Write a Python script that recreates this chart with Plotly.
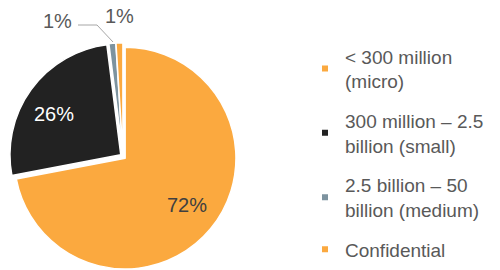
import plotly.graph_objects as go

categories = ["< 300 million<br>(micro)", "300 million – 2.5<br>billion (small)",
              "2.5 billion – 50<br>billion (medium)", "Confidential"]
values = [72, 26, 1, 1]
colors = ["#FBA93F", "#222222", "#7D939F", "#FBA93F"]
text_colors = ["#404040", "#FFFFFF", "#595959", "#595959"]
# label anchor positions (screen px) for each slice's percentage label
label_pos = [(187, 205), (54, 114), (57, 21), (119, 16)]

FONT = "Liberation Sans, Arial, sans-serif"
W, H = 500, 270

fig = go.Figure()
fig.add_trace(go.Pie(
    labels=categories, values=values, sort=False, direction="clockwise", rotation=0,
    marker=dict(colors=colors, line=dict(color="white", width=1.5)),
    pull=[0.025, 0.025, 0.025, 0.025],
    textinfo="none",
    domain=dict(x=[0.017, 0.475], y=[0.0, 0.8415]),
    showlegend=False, hoverinfo="label+percent",
))

for name, col in zip(categories, colors):
    fig.add_trace(go.Scatter(x=[None], y=[None], mode="markers", name=name,
                             legendgroup=name,
                             marker=dict(symbol="square", size=6, color=col)))

total = sum(values)
for v, (px, py), tc in zip(values, label_pos, text_colors):
    fig.add_annotation(x=px / W, y=1 - py / H, xref="paper", yref="paper",
                       text=f"{round(v / total * 100)}%",
                       xanchor="center", yanchor="middle", showarrow=False,
                       font=dict(family=FONT, size=20, color=tc))

fig.add_shape(type="path", xref="paper", yref="paper",
              path=f"M {78/W} {1-25/H} L {97/W} {1-25/H} L {113/W} {1-42/H}",
              line=dict(color="#A6A6A6", width=1))

fig.update_layout(
    width=W, height=H, margin=dict(l=0, r=0, t=0, b=0),
    paper_bgcolor="white", plot_bgcolor="white",
    xaxis=dict(visible=False), yaxis=dict(visible=False),
    legend=dict(x=0.61, y=0.862, xanchor="left", yanchor="top",
                font=dict(family=FONT, size=19, color="#595959"),
                tracegroupgap=12, itemsizing="trace", bgcolor="rgba(0,0,0,0)"),
)

fig.write_html("out.html", config={"displayModeBar": False},
               post_script="document.body.style.margin='0';")
